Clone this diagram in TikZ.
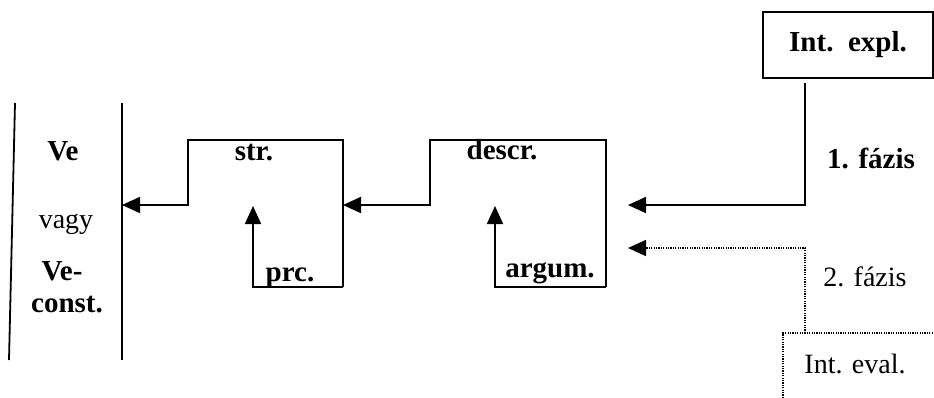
\documentclass[tikz,border=0pt]{standalone}
\usepackage{fontspec}
\setmainfont{Liberation Serif}
\usetikzlibrary{arrows.meta}
\begin{document}
\begin{tikzpicture}[x=1pt,y=-1pt,
    lbl/.style={anchor=base,font=\fontsize{29}{32}\selectfont\bfseries},
    plainlbl/.style={anchor=base,font=\fontsize{28}{31}\selectfont},
    wire/.style={line width=1.8pt},
    dotwire/.style={line width=1.5pt,dash pattern=on 1.2pt off 1.2pt},
    tip/.style={-{Triangle[length=18pt,width=16pt]}}]
    \useasboundingbox (0,0) rectangle (934,397);
    \clip (0,0) rectangle (934,397);
    % the Ve bar
    \draw[wire] (15,103) -- (9,360);
    \draw[wire] (122,103) -- (122,360);
    \coordinate (ve in) at (122,205);
    \node [lbl] (ve) at (63,160) {Ve};
    \node [plainlbl] (vagy) at (66,228) {vagy};
    \node [lbl] (vec) at (62,280) {Ve-};
    \node [lbl] (const) at (67,312) {const.};
    % str.
    \coordinate (str a) at (188,205);
    \coordinate (str b) at (188,140);
    \coordinate (str c) at (343,140);
    \coordinate (str d) at (343,287);
    \coordinate (str e) at (253,287);
    \coordinate (str in) at (343,205);
    \coordinate (prc tip) at (253,206);
    \node [lbl] (str) at (254,160) {str.};
    \node [lbl] (prc) at (290,281) {prc.};
    \draw[wire,tip] (str d) -- (str c) -- (str b) -- (str a) -- (ve in);
    \draw[wire,tip] (str d) -- (str e) -- (prc tip);
    % descr.
    \coordinate (dsc a) at (430,205);
    \coordinate (dsc b) at (430,140);
    \coordinate (dsc c) at (606,140);
    \coordinate (dsc d) at (606,287);
    \coordinate (dsc e) at (495,287);
    \coordinate (arg tip) at (495,206);
    \coordinate (dsc in1) at (628,205);
    \coordinate (dsc in2) at (628,248);
    \node [lbl] (descr) at (502,159) {descr.};
    \node [lbl] (argum) at (550,277) {argum.};
    \draw[wire,tip] (dsc d) -- (dsc c) -- (dsc b) -- (dsc a) -- (str in);
    \draw[wire,tip] (dsc d) -- (dsc e) -- (arg tip);
    % Int. expl. and Int. eval.
    \node [draw,line width=1.5pt,minimum width=170pt,minimum height=66pt,
      font=\fontsize{29}{32}\selectfont\bfseries] (expl) at (848,45) {Int.\ \ expl.};
    \coordinate (expl out) at (805,83);
    \coordinate (ph1) at (805,205);
    \draw[wire,tip] (expl out) -- (ph1) -- (dsc in1);
    \node [lbl] (f1) at (871,168) {1. fázis};
    \draw[dotwire] (940,333) -- (783,333) -- (783,402);
    \node [plainlbl] (eval) at (855,373) {Int. eval.};
    \coordinate (eval out) at (805,333);
    \coordinate (ph2) at (805,248);
    \draw[dotwire,tip] (eval out) -- (ph2) -- (dsc in2);
    \node [plainlbl] (f2) at (865,286) {2. fázis};
\end{tikzpicture}
\end{document}
